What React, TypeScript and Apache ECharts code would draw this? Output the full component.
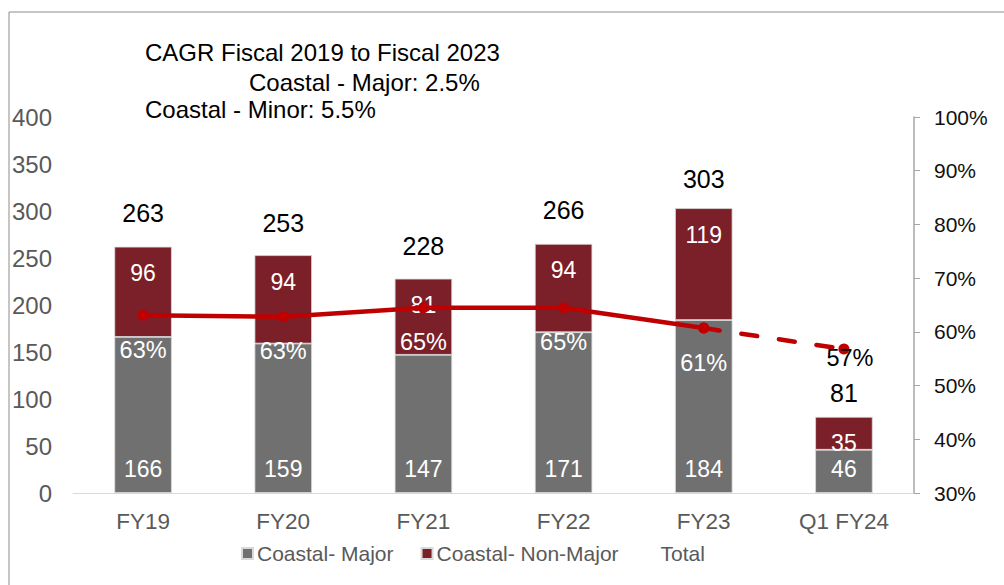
import React, { useEffect, useRef } from "react";
import * as echarts from "echarts";

const categories = ["FY19", "FY20", "FY21", "FY22", "FY23", "Q1 FY24"];
const coastalMajor = [166, 159, 147, 171, 184, 46];
const coastalNonMajor = [96, 94, 81, 94, 119, 35];
const totals = [263, 253, 228, 266, 303, 81];
const majorShare = [63.1, 62.8, 64.5, 64.5, 60.7, 56.8];
const leftTicks = { min: 0, max: 400, interval: 50 };
const rightTicks = { min: 30, max: 100, interval: 10 };
const cagrLines = [
  "CAGR Fiscal 2019 to Fiscal 2023",
  "Coastal - Major: 2.5%",
  "Coastal - Minor: 5.5%",
];

const FONT = "'Liberation Sans', Arial, sans-serif";

export default function App() {
  const ref = useRef<HTMLDivElement>(null);
  useEffect(() => {
    document.body.style.margin = "0";
    const chart = echarts.init(ref.current!, null, { renderer: "svg" });
    const lastIdx = categories.length - 1;
    const solid = majorShare.map((v, i) => (i < lastIdx ? v : "-"));
    const dashed = majorShare.map((v, i) => (i >= lastIdx - 1 ? v : "-"));
    const totalDist = [20, 20, 20, 20, 17, 11];
    chart.setOption({
      animation: false,
      textStyle: { fontFamily: FONT },
      grid: { left: 73, right: 90, top: 117, bottom: 92 },
      graphic: [
        {
          type: "rect",
          shape: { x: 9, y: 12, width: 1100, height: 700 },
          style: { fill: "none", stroke: "#8c8c8c", lineWidth: 1 },
          silent: true,
        },
        {
          type: "text",
          x: 145,
          y: 40,
          style: { text: cagrLines[0], font: `24px ${FONT}`, fill: "#000" },
        },
        {
          type: "text",
          x: 249,
          y: 70,
          style: { text: cagrLines[1], font: `24px ${FONT}`, fill: "#000" },
        },
        {
          type: "text",
          x: 145,
          y: 97,
          style: { text: cagrLines[2], font: `24px ${FONT}`, fill: "#000" },
        },
      ],
      legend: {
        left: 241,
        top: 543,
        padding: 0,
        itemWidth: 11,
        itemHeight: 11,
        itemGap: 27,
        textStyle: { fontSize: 21, color: "#595959", fontFamily: FONT, padding: [0, 0, 0, -1] },
        data: [
          { name: "Coastal- Major", icon: "rect" },
          { name: "Coastal- Non-Major", icon: "rect" },
          { name: "Total", icon: "none" },
        ],
      },
      xAxis: {
        type: "category",
        data: categories,
        axisLine: { lineStyle: { color: "#d9d9d9", width: 1 } },
        axisTick: { show: false },
        axisLabel: { color: "#595959", fontSize: 22.5, margin: 17, fontFamily: FONT },
      },
      yAxis: [
        {
          type: "value",
          ...leftTicks,
          axisLine: { show: false },
          axisTick: { show: false },
          splitLine: { show: false },
          axisLabel: { color: "#595959", fontSize: 24, margin: 21, fontFamily: FONT },
        },
        {
          type: "value",
          position: "right",
          ...rightTicks,
          axisLine: { show: true, lineStyle: { color: "#a6a6a6", width: 1.5 } },
          axisTick: { show: true, inside: false, length: 6, lineStyle: { color: "#a6a6a6" } },
          splitLine: { show: false },
          axisLabel: { color: "#111", fontSize: 21, margin: 20, formatter: "{value}%", fontFamily: FONT },
        },
      ],
      series: [
        {
          name: "Coastal- Major",
          type: "bar",
          stack: "s",
          barWidth: "41%",
          data: coastalMajor,
          itemStyle: { color: "#707070", borderColor: "#d9d9d9", borderWidth: 0.8 },
          label: {
            show: true,
            position: "insideBottom",
            distance: 13,
            color: "#fff",
            fontSize: 23,
            fontFamily: FONT,
          },
        },
        {
          name: "Coastal- Non-Major",
          type: "bar",
          stack: "s",
          data: coastalNonMajor,
          itemStyle: { color: "#7B1F29", borderColor: "#d9d9d9", borderWidth: 0.8 },
          label: {
            show: true,
            position: "insideTop",
            distance: 15,
            color: "#fff",
            fontSize: 23,
            fontFamily: FONT,
          },
        },
        {
          name: "Total",
          type: "line",
          data: totals.map((v, i) => ({
            value: v,
            label: { distance: totalDist[i] },
          })),
          symbol: "circle",
          symbolSize: 0,
          showSymbol: true,
          lineStyle: { color: "rgba(0,0,0,0)", width: 0 },
          itemStyle: { color: "rgba(0,0,0,0)" },
          label: { show: true, position: "top", color: "#000", fontSize: 25, fontFamily: FONT },
          z: 5,
        },
        {
          name: "Share",
          type: "line",
          yAxisIndex: 1,
          data: solid,
          symbol: "circle",
          symbolSize: 11,
          color: "#C00000",
          lineStyle: { color: "#C00000", width: 4.5 },
          label: {
            show: true,
            position: "bottom",
            distance: 17,
            color: "#fff",
            fontSize: 23.5,
            fontFamily: FONT,
            formatter: (p: any) => Math.round(p.value) + "%",
          },
          z: 10,
        },
        {
          name: "ShareQ",
          type: "line",
          yAxisIndex: 1,
          data: dashed.map((v, i) =>
            v === "-"
              ? "-"
              : {
                  value: v,
                  label: { show: i === lastIdx },
                }
          ),
          symbol: "circle",
          symbolSize: 11,
          color: "#C00000",
          lineStyle: { color: "#C00000", width: 4.5, type: [16, 22], cap: "round" },
          label: {
            show: true,
            position: "bottom",
            distance: 0,
            offset: [6, -9],
            color: "#000",
            fontSize: 23.5,
            fontFamily: FONT,
            formatter: (p: any) => Math.round(p.value) + "%",
          },
          z: 10,
        },
      ],
    });
    return () => chart.dispose();
  }, []);
  return <div ref={ref} style={{ width: 1004, height: 585 }} />;
}
